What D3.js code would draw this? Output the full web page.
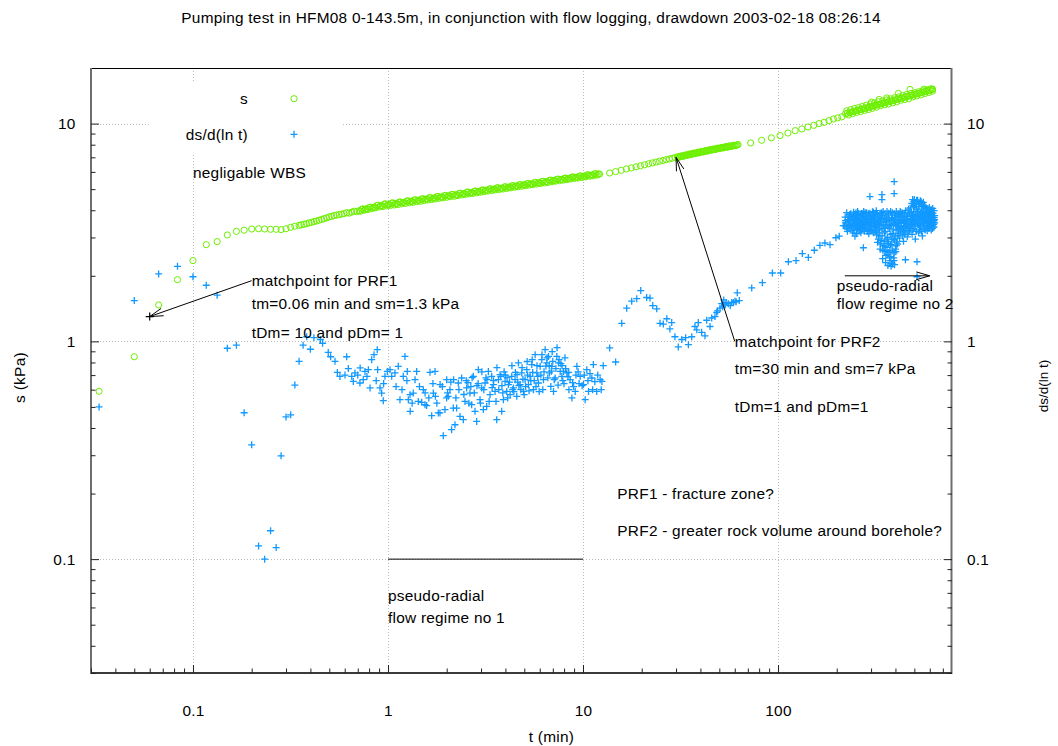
<!DOCTYPE html>
<html>
<head>
<meta charset="utf-8">
<script src="https://cdn.jsdelivr.net/npm/d3@7"></script>
<style>
  body { margin: 0; background: #fff; }
  svg { display: block; }
  text { font-family: "Liberation Sans", Arial, Helvetica, sans-serif; fill: #000; letter-spacing: 0.25px; }
</style>
</head>
<body>
<svg id="chart" width="1058" height="746"></svg>
<script>
// ---- chart values ----
const titleText = "Pumping test in HFM08 0-143.5m, in conjunction with flow logging, drawdown 2003-02-18 08:26:14";
const tRange = [0.03, 780];
const sRange = [0.03, 18];
const xTicks = [0.1, 1, 10, 100];
const yTicks = [0.1, 1, 10];

// drawdown s (kPa) against time t (min)
const drawdown = [
  [0.033,0.59],[0.05,0.85],[0.0667,1.47],[0.0833,1.92],[0.1,2.35],[0.117,2.78],[0.133,2.87],[0.15,3.08],
  [0.167,3.2],[0.183,3.24],[0.2,3.28],[0.217,3.29],[0.233,3.28],[0.25,3.27],[0.267,3.27],[0.283,3.26],
  [0.3,3.29],[0.317,3.34],[0.333,3.38],
  [0.35,3.41],[0.36,3.43],[0.371,3.45],[0.382,3.47],[0.394,3.5],[0.406,3.52],[0.418,3.55],[0.43,3.57],
  [0.443,3.6],[0.457,3.63],[0.47,3.66],[0.484,3.69],[0.499,3.73],[0.514,3.75],[0.529,3.78],[0.545,3.8],
  [0.562,3.82],[0.578,3.84],[0.596,3.86],[0.614,3.9],[0.632,3.88],[0.651,3.92],[0.671,3.96],[0.691,3.94],
  [0.712,3.98],[0.733,4.04],[0.755,4.0],[0.778,4.06],[0.801,4.12],[0.825,4.07],[0.85,4.13],[0.875,4.2],
  [0.902,4.14],[0.929,4.2],[0.957,4.27],[0.985,4.19],[1.015,4.25],[1.045,4.32],[1.077,4.23],[1.109,4.3],
  [1.142,4.36],[1.177,4.28],[1.212,4.35],[1.248,4.41],[1.286,4.33],[1.324,4.4],[1.364,4.46],[1.405,4.38],
  [1.447,4.45],[1.49,4.51],[1.535,4.43],[1.581,4.5],[1.629,4.57],[1.678,4.48],[1.728,4.55],[1.78,4.62],
  [1.833,4.54],[1.888,4.6],[1.945,4.67],[2.003,4.59],[2.063,4.66],[2.125,4.73],[2.189,4.64],[2.255,4.71],
  [2.322,4.78],[2.392,4.7],[2.464,4.77],[2.538,4.84],[2.614,4.76],[2.692,4.82],[2.773,4.89],[2.856,4.81],
  [2.942,4.88],[3.03,4.95],[3.121,4.87],[3.214,4.94],[3.311,5.01],[3.41,4.93],[3.512,5.0],[3.618,5.07],
  [3.726,4.98],[3.838,5.05],[3.953,5.12],[4.072,5.04],[4.194,5.11],[4.32,5.18],[4.449,5.1],[4.583,5.17],
  [4.72,5.24],[4.862,5.16],[5.008,5.23],[5.158,5.3],[5.313,5.22],[5.472,5.29],[5.636,5.36],[5.805,5.28],
  [5.98,5.35],[6.159,5.42],[6.344,5.34],[6.534,5.41],[6.73,5.49],[6.932,5.41],[7.14,5.48],[7.354,5.55],
  [7.575,5.47],[7.802,5.54],[8.036,5.61],[8.277,5.53],[8.526,5.61],[8.781,5.68],[9.045,5.6],[9.316,5.67],
  [9.596,5.74],[9.884,5.66],[10.18,5.74],[10.49,5.81],[10.8,5.73],[11.12,5.8],[11.46,5.88],[11.8,5.8],
  [12.15,5.87],
  [0.723,3.96],[0.744,4.06],[0.766,4.04],[0.79,4.03],[0.813,4.13],[0.837,4.12],[0.862,4.1],[0.888,4.22],
  [0.916,4.19],[0.943,4.16],[0.971,4.28],[1.0,4.24],[1.03,4.21],[1.061,4.32],[1.093,4.29],[1.125,4.25],
  [1.159,4.37],[1.194,4.34],[1.23,4.3],[1.267,4.42],[1.305,4.39],[1.344,4.35],[1.384,4.47],[1.426,4.44],
  [1.468,4.4],[1.512,4.52],[1.558,4.49],[1.605,4.46],[1.653,4.57],[1.703,4.54],[1.754,4.51],[1.806,4.63],
  [1.86,4.59],[1.916,4.56],[1.974,4.68],[2.033,4.65],[2.094,4.62],[2.157,4.73],[2.222,4.7],[2.288,4.67],
  [2.357,4.79],[2.428,4.76],[2.501,4.73],[2.576,4.85],[2.653,4.81],[2.732,4.78],[2.814,4.9],[2.899,4.87],
  [2.986,4.84],[3.075,4.96],[3.167,4.93],[3.262,4.9],[3.36,5.02],[3.461,4.99],[3.565,4.96],[3.672,5.07],
  [3.782,5.04],[3.895,5.01],[4.012,5.13],[4.133,5.1],[4.257,5.07],[4.384,5.19],[4.516,5.16],[4.651,5.13],
  [4.791,5.25],[4.935,5.22],[5.083,5.19],[5.235,5.31],[5.392,5.28],[5.554,5.25],[5.72,5.37],[5.892,5.34],
  [6.069,5.31],[6.251,5.43],[6.438,5.4],[6.632,5.37],[6.831,5.5],[7.036,5.47],[7.247,5.44],[7.464,5.56],
  [7.688,5.53],[7.919,5.5],[8.156,5.62],[8.401,5.59],[8.653,5.57],[8.913,5.69],[9.18,5.66],[9.456,5.63],
  [9.739,5.75],[10.03,5.72],[10.33,5.7],[10.64,5.82],[10.96,5.79],[11.29,5.76],[11.63,5.89],[11.98,5.86],
  [13.7,5.93],[14.7,6.02],[15.7,6.1],[16.7,6.19],[17.7,6.26],[18.7,6.33],[19.7,6.4],[20.7,6.47],
  [21.7,6.54],[22.7,6.6],[23.7,6.66],[24.7,6.72],[25.7,6.77],[26.7,6.83],[27.7,6.88],[28.7,6.93],[29.7,6.98],
  [30.5,7.04],[31.2,7.02],[32,7.11],[32.8,7.09],[33.6,7.18],[34.4,7.16],[35.2,7.25],[36,7.23],[36.9,7.32],
  [37.8,7.29],[38.7,7.39],[39.6,7.36],[40.6,7.45],[41.6,7.43],[42.6,7.52],[43.6,7.49],[44.7,7.59],[45.8,7.56],
  [46.9,7.65],[48,7.62],[49.2,7.72],[50.4,7.69],[51.6,7.78],[52.8,7.75],[54.1,7.84],[55.4,7.81],[56.7,7.9],
  [58.1,7.87],[59.5,7.96],[60.9,7.93],[62.4,8.01],
  [30.85,7.0],[31.6,7.08],[32.4,7.07],[33.2,7.15],[34,7.14],[34.8,7.22],[35.6,7.21],[36.45,7.28],[37.35,7.27],
  [38.25,7.35],[39.15,7.34],[40.1,7.42],[41.1,7.4],[42.1,7.49],[43.1,7.47],[44.15,7.56],[45.25,7.54],
  [46.35,7.62],[47.45,7.6],[48.6,7.69],[49.8,7.67],[51,7.75],[52.2,7.73],[53.45,7.81],[54.75,7.79],
  [56.05,7.87],[57.4,7.85],[58.8,7.93],[60.2,7.91],[61.65,7.98],
  [72.4,8.15],[82.4,8.38],[92.4,8.6],[102.4,8.81],[112.4,9.05],[122.4,9.28],[132.4,9.45],[142.4,9.65],
  [152.4,9.82],[162.4,10.0],[172.4,10.14],[182.4,10.32],[192.4,10.5],[202.4,10.62],[212.4,10.74],
  [222,11.1],[227,11.16],[233,11.23],[238,11.3],[244,11.37],[250,11.43],[256,11.5],[262,11.57],[268,11.64],
  [275,11.71],[281,11.77],[288,11.85],[295,11.92],[302,11.99],[309,12.06],[317,12.13],[324,12.2],[332,12.28],
  [340,12.35],[348,12.42],[357,12.5],[365,12.57],[374,12.65],[383,12.72],[392,12.8],[402,12.88],[411,12.95],
  [421,13.03],[431,13.1],[442,13.19],[452,13.26],[463,13.34],[474,13.42],[486,13.5],[497,13.58],[509,13.66],
  [521,13.74],[534,13.82],[547,13.91],[560,13.99],[573,14.07],[587,14.15],[601,14.24],[616,14.33],
  [225,11.45],[230,10.95],[236,11.6],[241,11.1],[247,11.75],[253,11.25],[259,11.85],[265,11.35],[271,12.0],
  [278,11.5],[284,12.15],[291,11.6],[298,12.3],[305,11.75],[313,12.45],[320,11.9],[328,12.6],[336,12.1],
  [344,12.7],[352,12.2],[361,12.85],[369,12.3],[378,13.0],[387,12.45],[397,13.15],[406,12.6],[416,13.25],
  [426,12.8],[436,13.45],[447,12.9],[457,13.6],[468,13.0],[480,13.75],[491,13.25],[503,13.85],[515,13.4],
  [527,14.0],[540,13.55],[553,14.15],[566,13.75],[580,14.3],[594,13.9],[608,14.45],[620,14.1],
  [302,12.55],[330,12.9],[361,13.12],[414,13.75],[475,14.35],[560,14.4],[620,14.4]
];

// derivative ds/d(ln t) against time t (min)
const derivative = [
  [0.033,0.5],[0.05,1.54],[0.0667,2.04],[0.0833,2.21],[0.1,1.98],[0.117,1.81],[0.133,1.63],[0.15,0.93],
  [0.167,0.96],[0.183,0.47],[0.2,0.335],[0.217,0.115],[0.233,0.1],[0.25,0.135],[0.267,0.113],[0.283,0.298],
  [0.3,0.45],[0.317,0.46],[0.333,0.63],[0.35,0.81],[0.367,0.96],[0.383,1.05],[0.4,0.92],[0.417,1.04],
  [0.45,1.02],[0.462,0.98],[0.494,0.89],[0.508,0.85],[0.535,0.81],[0.55,0.72],[0.567,0.69],[0.602,0.7],
  [0.614,0.85],[0.626,0.75],[0.652,0.69],
  [0.664,0.655],[0.677,0.716],[0.718,0.644],[0.72,0.755],[0.747,0.667],[0.762,0.728],[0.793,0.741],[0.809,0.611],
  [0.825,0.824],[0.848,0.869],[0.881,0.916],[0.885,0.741],[0.91,0.611],[0.928,0.579],[0.946,0.534],[0.965,0.691],
  [0.992,0.728],[1.024,0.741],[1.045,0.691],[1.086,0.716],[1.129,0.768],[1.152,0.54],[1.198,0.691],[1.222,0.853],
  [1.256,0.728],[1.271,0.54],[1.297,0.569],[1.3,0.477],[1.348,0.579],[1.376,0.667],[1.403,0.728],[1.43,0.53],
  [1.489,0.525],[1.517,0.6],[1.548,0.512],[1.579,0.507],[1.642,0.721],[1.675,0.456],[1.708,0.579],[1.742,0.728],
  [1.75,0.559],[1.811,0.469],[1.847,0.469],[1.85,0.633],[1.921,0.369],[1.959,0.486],[1.998,0.55],[2.0,0.667],
  [2.037,0.559],[2.078,0.6],[2.119,0.393],[2.162,0.494],[2.17,0.667],[2.205,0.414],[2.249,0.494],[2.294,0.644],
  [2.34,0.452],[2.387,0.679],[2.434,0.437],[2.482,0.53],[2.532,0.611],[2.633,0.579],[2.686,0.512],[2.739,0.691],
  [2.794,0.477],[2.85,0.429],[2.906,0.741],[2.964,0.54],[3.023,0.611],[3.084,0.486],[3.145,0.644],[3.207,0.503],
  [3.271,0.728],[3.337,0.569],[3.403,0.691],[3.471,0.633],[3.54,0.589],[3.611,0.437],[3.682,0.667],[3.756,0.703],
  [3.83,0.477],[3.907,0.54],[3.985,0.655],[4.064,0.589],[4.145,0.633],[4.228,0.569],[4.312,0.691],[4.397,0.611],
  [4.485,0.667],[4.574,0.559],[4.665,0.796],[4.758,0.633],[4.853,0.716],[4.949,0.589],[5.048,0.667],[5.148,0.741],
  [5.251,0.633],[5.355,0.691],[5.462,0.782],[5.57,0.6],[5.681,0.869],[5.795,0.716],[5.909,0.644],[6.027,0.768],
  [6.147,0.824],[6.269,0.667],[6.394,0.916],[6.521,0.796],[6.65,0.853],[6.73,0.716],[6.84,0.621],[6.92,0.768],
  [7.06,0.589],[7.2,0.679],[7.34,0.853],[7.49,0.796],[7.64,0.728],[7.79,0.691],[7.94,0.728],[8.26,0.716],
  [8.59,0.667],[8.77,0.55],[9.12,0.589],[9.3,0.768],[9.67,0.691],[10.06,0.633],[10.26,0.54],[10.46,0.741],
  [10.67,0.589],[11.1,0.679],[11.3,0.782],[11.76,0.589],[12.24,0.667],[12.5,0.655],[12.7,0.773],[13.7,0.933],
  [14.7,0.804],
  [2.57,0.646],[2.7,0.681],[2.86,0.626],[3.03,0.725],[3.22,0.667],[3.42,0.613],[3.62,0.757],[3.84,0.626],
  [3.94,0.725],[4.08,0.681],[4.32,0.773],[4.42,0.588],[4.59,0.703],[4.69,0.626],[4.87,0.757],[4.99,0.569],
  [5.17,0.808],[5.29,0.593],[5.49,0.824],[5.62,0.66],[5.81,0.773],[5.96,0.588],[6.16,0.869],[6.31,0.725],
  [6.54,0.84],[6.71,0.773],[6.95,0.897],[7.12,0.667],[7.36,0.935],[7.54,0.824],[7.81,0.773],[7.99,0.639],
  [8.08,0.84],[8.37,0.688],[8.47,0.6],[8.85,0.646],[9.44,0.725],[9.9,0.626],[10.86,0.711],[11.5,0.653],
  [1.9,0.62],[2.02,0.58],[2.1,0.65],[2.23,0.55],[2.31,0.6],[2.45,0.57],[2.52,0.66],[2.6,0.52],[2.66,0.62],
  [2.77,0.58],[2.9,0.64],[2.98,0.52],[3.1,0.6],[3.18,0.68],[3.3,0.53],[3.48,0.66],[3.58,0.53],[3.7,0.6],
  [3.79,0.69],[3.88,0.58],[4.0,0.7],[4.11,0.55],[4.2,0.65],[4.36,0.6],[4.5,0.72],[4.62,0.65],[4.8,0.6],
  [4.92,0.67],[5.08,0.62],[5.2,0.7],[5.4,0.66],[5.52,0.72],[5.74,0.62],[5.86,0.69],[6.08,0.7],[6.22,0.6],
  [6.45,0.77],[6.6,0.68],[6.88,0.73],[7.0,0.81],[7.26,0.75],[7.45,0.63],[7.7,0.79],[7.88,0.66],[8.15,0.75],
  [8.45,0.72],[8.95,0.62],[9.2,0.7],[9.55,0.64],[10.15,0.7],[10.6,0.66],[11.2,0.6],[11.9,0.7],[12.4,0.6],
  [1.1,0.62],[1.18,0.6],[1.25,0.66],[1.33,0.52],[1.45,0.62],[1.55,0.58],[1.62,0.55],[1.7,0.64],[1.78,0.52],
  [0.7,0.7],[0.78,0.69],[0.87,0.66],[0.95,0.64],
  [15.8,1.21],[16.75,1.42],[17.77,1.53],[18.86,1.57],[19.77,1.71],[21.2,1.59],[22.06,1.58],[22.78,1.46],
  [23.88,1.41],[24.83,1.21],[25.8,1.2],[26.9,1.27],[27.9,1.14],[28.5,1.22],[29.6,1.05],[30.8,0.943],
  [32.1,1.02],[33.6,1.04],[34.7,0.966],[36.1,1.05],[37.5,1.17],[38.3,1.13],[39.0,1.22],[40.6,1.1],
  [42.2,1.06],[43.1,1.25],[44.8,1.17],[45.7,1.28],[47.5,1.3],[48.5,1.36],[49,1.38],[50.4,1.42],
  [51.4,1.49],[52,1.44],[52.7,1.55],[53.5,1.47],[54.2,1.51],[55.6,1.49],[56.9,1.46],[57.9,1.51],
  [59,1.51],[60.2,1.53],[61,1.52],[61.8,1.67],[63.3,1.54],[73.3,1.76],[83.1,1.86],[93.5,2.06],
  [103.2,2.06],[113,2.32],[123.7,2.35],[133.2,2.53],[143,2.43],[153.5,2.62],[164,2.76],[174,2.83],
  [184.8,2.78],[198,2.99],[206,3.04],[216,3.4],
  [219,3.4],[224,3.36],[228,3.62],[231,3.3],[234,3.55],[237,3.75],[240,3.22],[243,3.48],[244,3.92],
  [246,3.66],[248,3.04],[250,3.38],[252,3.58],[254,3.8],[256,3.28],[258,3.5],[260,3.7],[262,3.22],
  [264,3.44],[266,3.62],[268,3.86],[270,3.33],[272,3.53],[274,2.69],[276,3.76],[278,3.25],[281,3.45],
  [283,3.66],[285,3.9],[287,3.2],[290,3.57],[292,3.38],[295,3.8],[297,3.62],[300,3.27],[302,3.48],
  [305,3.94],[307,3.7],[310,3.15],[312,3.55],[315,3.35],[317,3.82],[320,3.08],[322,3.62],[325,3.44],
  [327,2.95],[330,3.72],[332,3.25],[335,2.8],[337,3.52],[340,3.9],[342,3.05],[345,2.62],[347,3.4],
  [350,3.65],[352,2.88],[355,3.2],[357,2.48],[360,3.55],[362,2.7],[365,3.0],[368,3.8],[370,2.56],
  [372,3.3],[375,2.35],[378,2.78],[380,3.58],[382,2.28],[385,3.12],[388,2.6],[390,3.45],[392,2.42],
  [395,2.92],[398,3.7],[400,2.65],[403,3.25],[405,2.86],[408,3.52],[411,3.05],[414,3.85],[417,3.35],
  [420,2.98],[423,3.62],[426,3.18],[430,3.48],[433,3.9],[436,3.28],[440,2.88],[443,3.58],[447,3.1],
  [450,2.37],[452,3.4],[456,3.75],[460,3.02],[463,3.55],[467,4.05],[471,3.22],[475,3.66],[479,3.45],
  [483,3.92],[487,3.1],[490,4.48],[494,3.58],[498,3.3],[502,4.15],[506,2.95],[510,3.7],[514,4.45],
  [516,2.32],[518,3.48],[522,3.85],[526,3.15],[530,4.3],[534,3.6],[538,3.35],[542,4.38],[546,3.75],
  [550,3.05],[554,3.52],[558,4.2],[562,3.28],[566,3.68],[570,3.9],[574,3.4],[578,3.6],[582,3.22],
  [586,3.78],[590,3.5],[594,3.3],[598,3.66],[602,3.45],[606,3.85],[610,3.25],[614,3.58],[618,3.4],
  [622,3.72],[626,3.52],[630,3.35],[634,3.62],
  [222,3.58],[226,3.28],[229,3.72],[232,3.45],[236,3.85],[238,3.35],[241,3.62],[245,3.25],[247,3.78],
  [249,3.52],[251,3.9],[253,3.3],[255,3.65],[257,3.42],[259,3.85],[261,3.58],[263,3.35],[265,3.78],
  [267,3.25],[269,3.5],[271,3.7],[273,3.4],[275,3.95],[277,3.55],[279,3.3],[282,3.75],[284,3.5],
  [286,3.28],[288,3.68],[291,3.85],[293,3.45],[296,3.22],[298,3.75],[301,3.55],[303,3.35],[306,3.65],
  [308,3.92],[311,3.42],[313,3.72],[316,3.22],[318,3.5],[321,3.3],[323,3.85],[326,3.15],[328,3.58],
  [331,3.4],[333,3.05],[336,3.68],[338,2.9],[341,3.3],[343,3.78],[346,2.75],[348,3.52],[351,3.15],
  [353,2.58],[356,3.42],[358,2.95],[361,3.72],[363,2.5],[366,3.35],[369,2.82],[371,3.62],[374,2.62],
  [376,3.1],[379,2.45],[381,3.4],[384,2.75],[386,3.68],[389,2.95],[391,3.25],[394,2.55],[396,3.5],
  [399,3.05],[401,3.8],[404,2.75],[407,3.4],[410,3.62],[413,3.12],[416,3.5],[419,3.75],[422,3.25],
  [425,3.9],[428,3.35],[432,3.6],[435,3.05],[438,3.72],[442,3.4],[445,3.88],[449,3.22],[454,3.55],
  [458,3.35],[462,3.8],[465,3.15],[469,3.48],[473,3.88],[477,3.3],[481,3.62],[485,3.42],[489,3.78],
  [492,3.25],[496,3.95],[500,3.52],[504,3.38],[508,3.8],[512,3.2],[516,3.62],[520,3.95],[524,3.42],
  [528,3.7],[532,3.25],[536,3.9],[540,3.52],[544,3.2],[548,3.68],[552,3.88],[556,3.38],[560,3.62],
  [564,3.48],[568,3.25],[572,3.75],[576,3.55],[580,3.85],[584,3.4],[588,3.6],[592,3.72],[596,3.35],
  [600,3.55],[604,3.65],[608,3.42],[612,3.8],[616,3.55],[620,3.3],[624,3.6],[628,3.45],[632,3.7],[636,3.5],
  [221,3.72],[223,3.5],[225,3.9],[227,3.2],[230,3.6],[233,3.82],[235,3.4],[239,3.68],[242,3.15],[246,3.45],
  [250,3.72],[253,3.12],[256,3.95],[259,3.35],[263,3.6],[266,3.15],[270,3.85],[273,3.62],[277,3.2],[280,3.9],
  [284,3.38],[288,3.55],[292,3.12],[296,3.88],[299,3.42],[303,3.65],[307,3.18],[311,3.8],[315,3.58],[319,3.98],
  [322,3.4],[326,3.7],[330,3.5],[334,3.88],[338,3.45],[342,3.68],[346,3.95],[350,3.3],[354,3.85],[358,3.6],
  [362,3.95],[366,3.62],[370,3.88],[374,3.45],[378,3.95],[382,3.7],[386,3.9],[391,3.6],[395,3.85],[400,3.45],
  [404,3.95],[409,3.7],[413,3.28],[418,3.58],[423,3.95],[427,3.5],[431,3.8],[436,3.62],[441,3.18],[446,3.62],
  [451,3.98],[456,3.45],[461,3.65],[466,3.3],[471,3.85],[476,4.1],[481,3.4],[486,3.75],[491,3.55],[496,4.2],
  [501,3.72],[507,3.5],[512,4.05],[517,3.8],[523,3.6],[528,4.15],[533,3.45],[539,3.8],[545,4.05],[551,3.6],
  [557,3.95],[563,3.7],[569,4.1],[575,3.65],[581,3.95],[587,3.48],[593,3.9],[599,3.75],[605,3.58],[611,3.92],
  [617,3.68],[623,3.88],[629,3.58],[635,3.78],
  [485,4.3],[497,4.38],[505,4.25],[518,4.4],[527,4.28],[537,4.42],[548,4.22],[556,4.35],[566,4.18],
  [576,4.1],[586,4.05],[597,4.12],[609,4.02],[621,4.08],[631,3.98],
  [324,2.85],[334,2.65],[344,2.4],[354,2.72],[364,2.88],[373,2.42],[383,2.95],[393,2.35],[402,2.58],
  [410,2.8],[356,2.3],[387,2.26],[396,2.25],[366,2.23],[380,2.21],
  [296,4.62],[341,4.72],[341,4.48],[394,4.77],[394,5.41],[500,4.48],[520,4.45],[545,4.3],[516,1.98]
];

// type-curve match points
const matchPoints = [[0.06, 1.3]];

// text annotations anchored in data coordinates
const notes = [
  { t: 0.2,  v: 1.9,   text: "matchpoint for PRF1" },
  { t: 0.2,  v: 1.5,   text: "tm=0.06 min and sm=1.3 kPa" },
  { t: 0.2,  v: 1.1,   text: "tDm= 10 and pDm= 1" },
  { t: 60,   v: 1.0,   text: "matchpoint for PRF2" },
  { t: 60,   v: 0.75,  text: "tm=30 min and sm=7 kPa" },
  { t: 60,   v: 0.5,   text: "tDm=1 and pDm=1" },
  { t: 15,   v: 0.2,   text: "PRF1 - fracture zone?" },
  { t: 15,   v: 0.136, text: "PRF2 - greater rock volume around borehole?" },
  { t: 1,    v: 0.068, text: "pseudo-radial" },
  { t: 1,    v: 0.054, text: "flow regime no 1" },
  { t: 200,  v: 1.8,   text: "pseudo-radial" },
  { t: 200,  v: 1.5,   text: "flow regime no 2" }
];

// annotation lines: [from, to, with arrow head]
const arrows = [
  { from: [0.2, 1.9], to: [0.06, 1.3], head: true },
  { from: [60, 1.0],  to: [30, 7],     head: true },
  { from: [220, 2],   to: [600, 2],    head: true },
  { from: [1, 0.1],   to: [10, 0.1],   head: false }
];

// ---- drawing ----
const svg = d3.select("#chart");
const box = { left: 91, right: 952, top: 68, bottom: 673 };
const GREEN = "#6cf000";
const BLUE = "#1199ff";
const FONT = 15.4;

const x = d3.scaleLog().domain(tRange).range([box.left, box.right]);
const y = d3.scaleLog().domain(sRange).range([box.bottom, box.top]);

function minorTicks(domain) {
  const out = [];
  for (let e = -3; e <= 3; e++) {
    for (let k = 2; k <= 9; k++) {
      const v = k * Math.pow(10, e);
      if (v >= domain[0] && v <= domain[1]) out.push(v);
    }
  }
  return out;
}
const xMinor = minorTicks(tRange);
const yMinor = minorTicks(sRange);
const fmt = d3.format("~g");

// dotted grid at the decades
const grid = svg.append("g").attr("stroke", "#bdbdbd").attr("stroke-width", 1)
  .attr("stroke-dasharray", "1,2");
grid.selectAll("line.gx").data(xTicks).join("line")
  .attr("x1", d => Math.round(x(d)) + 0.5).attr("x2", d => Math.round(x(d)) + 0.5)
  .attr("y1", box.top).attr("y2", box.bottom);
grid.selectAll("line.gy").data(yTicks).join("line")
  .attr("y1", d => Math.round(y(d)) + 0.5).attr("y2", d => Math.round(y(d)) + 0.5)
  .attr("x1", box.left).attr("x2", box.right);

// key area is opaque over the grid
svg.append("rect").attr("x", 150).attr("y", 82).attr("width", 192).attr("height", 71).attr("fill", "#fff");

// data markers
const circ = svg.append("g").attr("fill", "none").attr("stroke", GREEN).attr("stroke-width", 1);
circ.selectAll("circle").data(drawdown).join("circle")
  .attr("cx", d => x(d[0])).attr("cy", d => y(d[1])).attr("r", 3.1);

const plusPath = "M-3.5,0H3.5M0,-3.5V3.5";
const plus = svg.append("g").attr("fill", "none").attr("stroke", BLUE).attr("stroke-width", 1.3);
plus.selectAll("path").data(derivative).join("path")
  .attr("d", plusPath)
  .attr("transform", d => `translate(${x(d[0])},${y(d[1])})`);

svg.append("g").attr("fill", "none").attr("stroke", "#000").attr("stroke-width", 1.2)
  .selectAll("path").data(matchPoints).join("path")
  .attr("d", "M-4,0H4M0,-4V4")
  .attr("transform", d => `translate(${x(d[0])},${y(d[1])})`);

// frame
svg.append("rect").attr("x", box.left + 0.5).attr("y", box.top + 0.5)
  .attr("width", box.right - box.left - 1).attr("height", box.bottom - box.top - 1)
  .attr("fill", "none").attr("stroke", "#000").attr("stroke-width", 1);
svg.append("line").attr("x1", box.left).attr("x2", box.left).attr("y1", box.top).attr("y2", box.bottom + 1)
  .attr("stroke", "#6e6e6e").attr("stroke-width", 2);
svg.append("line").attr("x1", box.right - 0.5).attr("x2", box.right - 0.5).attr("y1", box.top).attr("y2", box.bottom + 1)
  .attr("stroke", "#6e6e6e").attr("stroke-width", 2);
svg.append("line").attr("x1", box.left).attr("x2", box.right).attr("y1", box.bottom).attr("y2", box.bottom)
  .attr("stroke", "#3a3a3a").attr("stroke-width", 2);

function styleAxis(g) {
  g.select(".domain").remove();
  g.selectAll(".tick line").attr("stroke", "#222");
  g.selectAll(".tick text").attr("font-size", FONT)
    .attr("font-family", '"Liberation Sans", Arial, sans-serif').attr("fill", "#000");
  g.attr("font-size", null).attr("font-family", null);
}

// bottom axis
svg.append("g").attr("transform", `translate(0,${box.bottom})`)
  .call(d3.axisBottom(x).tickValues(xMinor).tickSizeInner(-4.5).tickSizeOuter(0).tickFormat(""))
  .call(styleAxis);
svg.append("g").attr("transform", `translate(0,${box.bottom})`)
  .call(d3.axisBottom(x).tickValues(xTicks).tickSizeInner(-8).tickSizeOuter(0).tickPadding(32).tickFormat(fmt))
  .call(styleAxis);

// left axis
svg.append("g").attr("transform", `translate(${box.left},0)`)
  .call(d3.axisLeft(y).tickValues(yMinor).tickSizeInner(-4.5).tickSizeOuter(0).tickFormat(""))
  .call(styleAxis);
svg.append("g").attr("transform", `translate(${box.left},0)`)
  .call(d3.axisLeft(y).tickValues(yTicks).tickSizeInner(-8).tickSizeOuter(0).tickPadding(15.5).tickFormat(fmt))
  .call(styleAxis);

// right axis
svg.append("g").attr("transform", `translate(${box.right},0)`)
  .call(d3.axisRight(y).tickValues(yMinor).tickSizeInner(-4.5).tickSizeOuter(0).tickFormat(""))
  .call(styleAxis);
svg.append("g").attr("transform", `translate(${box.right},0)`)
  .call(d3.axisRight(y).tickValues(yTicks).tickSizeInner(-8).tickSizeOuter(0).tickPadding(15).tickFormat(fmt))
  .call(styleAxis);

// titles
svg.append("text").attr("x", 531).attr("y", 17).attr("text-anchor", "middle")
  .attr("dominant-baseline", "central").attr("font-size", FONT).text(titleText);
svg.append("text").attr("x", 551.5).attr("y", 736).attr("text-anchor", "middle")
  .attr("dominant-baseline", "central").attr("font-size", FONT).text("t (min)");
svg.append("text").attr("transform", "translate(19.5,377.5) rotate(-90)").attr("text-anchor", "middle")
  .attr("dominant-baseline", "central").attr("font-size", 15.5).text("s (kPa)");
svg.append("text").attr("transform", "translate(1043.5,386) rotate(-90)").attr("text-anchor", "middle")
  .attr("dominant-baseline", "central").attr("font-size", 13.5).style("letter-spacing", "0px").text("ds/d(ln t)");

// key
const key = svg.append("g");
key.append("text").attr("x", 248).attr("y", 98.7).attr("text-anchor", "end")
  .attr("dominant-baseline", "central").attr("font-size", FONT).text("s");
key.append("circle").attr("cx", 294).attr("cy", 98.7).attr("r", 3.1)
  .attr("fill", "none").attr("stroke", GREEN).attr("stroke-width", 1);
key.append("text").attr("x", 248).attr("y", 134.3).attr("text-anchor", "end")
  .attr("dominant-baseline", "central").attr("font-size", FONT).text("ds/d(ln t)");
key.append("path").attr("d", plusPath).attr("transform", "translate(294,134.3)")
  .attr("fill", "none").attr("stroke", BLUE).attr("stroke-width", 1.3);
svg.append("text").attr("x", 193).attr("y", 172.5).attr("dominant-baseline", "central")
  .attr("font-size", FONT).text("negligable WBS");

// annotation lines and arrows
function headPath(x1, y1, x2, y2, len, ang) {
  const a = Math.atan2(y1 - y2, x1 - x2);
  return `M${x2 + len * Math.cos(a + ang)},${y2 + len * Math.sin(a + ang)}L${x2},${y2}` +
         `L${x2 + len * Math.cos(a - ang)},${y2 + len * Math.sin(a - ang)}`;
}
const ann = svg.append("g").attr("fill", "none").attr("stroke", "#000").attr("stroke-width", 1);
arrows.forEach(a => {
  const x1 = x(a.from[0]), y1 = y(a.from[1]), x2 = x(a.to[0]), y2 = y(a.to[1]);
  ann.append("line").attr("x1", x1).attr("y1", y1).attr("x2", x2).attr("y2", y2);
  if (a.head) ann.append("path").attr("d", headPath(x1, y1, x2, y2, 14, 0.28));
});

svg.append("g").selectAll("text").data(notes).join("text")
  .attr("x", d => x(d.t)).attr("y", d => y(d.v))
  .attr("dominant-baseline", "central").attr("font-size", FONT)
  .text(d => d.text);
</script>
</body>
</html>
